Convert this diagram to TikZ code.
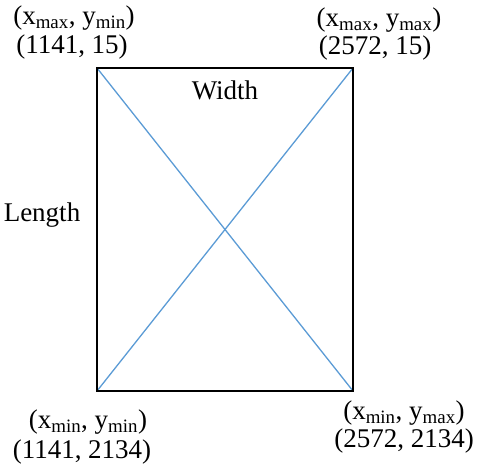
\documentclass[tikz,border=0pt]{standalone}
\usepackage{fontspec}
\setmainfont{Liberation Serif}
\usepackage{xcolor}
\definecolor{diagblue}{RGB}{91,155,213}

\begin{document}
\begin{tikzpicture}[x=1pt, y=-1pt,
    lbl/.style={font=\fontsize{27}{32}\selectfont, inner sep=0pt}]
  \useasboundingbox (0,0) rectangle (480,470);

  \coordinate (tl) at (97,68);
  \coordinate (tr) at (353,68);
  \coordinate (bl) at (97,391);
  \coordinate (br) at (353,391);

  \draw[diagblue, line width=1.3pt] (tl) -- (br);
  \draw[diagblue, line width=1.3pt] (bl) -- (tr);
  \draw[black, line width=2.4pt] (tl) rectangle (br);

  \node[lbl] (tlname) at (74,18) {(x\textsubscript{max}, y\textsubscript{min})};
  \node[lbl] (tlval) at (72,47) {(1141, 15)};
  \node[lbl] (trname) at (379,20) {(x\textsubscript{max}, y\textsubscript{max})};
  \node[lbl] (trval) at (375,48) {(2572, 15)};
  \node[lbl] (blname) at (88,422) {(x\textsubscript{min}, y\textsubscript{min})};
  \node[lbl] (blval) at (82,452) {(1141, 2134)};
  \node[lbl] (brname) at (404,413) {(x\textsubscript{min}, y\textsubscript{max})};
  \node[lbl] (brval) at (404,441) {(2572, 2134)};

  \node[lbl] (width) at (225,90) {Width};
  \node[lbl] (length) at (42,215) {Length};
\end{tikzpicture}
\end{document}
